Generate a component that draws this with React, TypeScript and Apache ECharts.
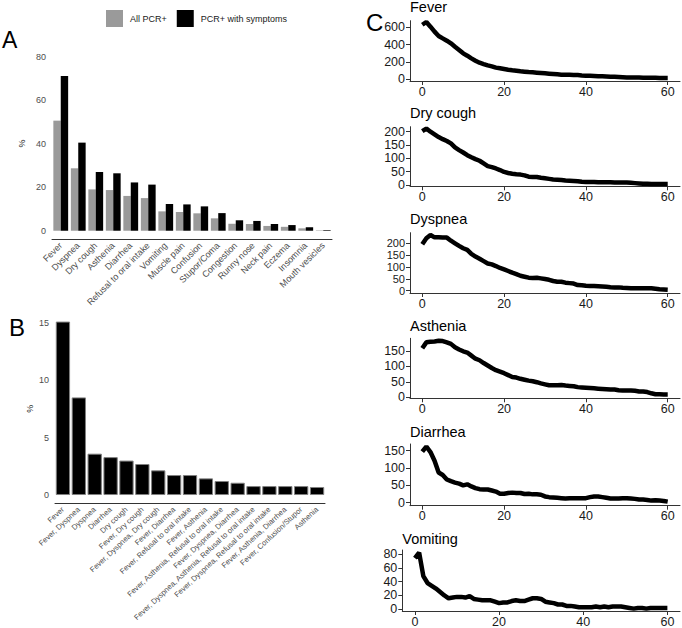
import { useEffect, useRef } from 'react';
import * as echarts from 'echarts';

const FONT = 'Liberation Sans, Arial, sans-serif';

// Panel A
const SYMPTOMS_A = ['Fever', 'Dyspnea', 'Dry cough', 'Asthenia', 'Diarrhea', 'Refusal to oral intake', 'Vomiting', 'Muscle pain', 'Confusion', 'Stupor/Coma', 'Congestion', 'Runny nose', 'Neck pain', 'Eczema', 'Insomnia', 'Mouth vesicles'];
const ALL_PCR = [50.6, 28.7, 19.0, 18.7, 16.0, 15.0, 8.9, 8.6, 8.0, 5.7, 3.2, 3.1, 2.2, 1.8, 1.1, 0.2];
const PCR_SYMPT = [71.1, 40.5, 27.0, 26.4, 22.2, 21.2, 12.3, 12.1, 11.2, 8.1, 4.8, 4.5, 3.1, 2.6, 1.6, 0.3];
const A_TICKS = [0, 20, 40, 60, 80];

// Panel B
const COMBOS_B = ['Fever', 'Fever, Dyspnea', 'Dyspnea', 'Diarrhea', 'Dry cough', 'Fever, Dry cough', 'Fever, Dyspnea, Dry cough', 'Fever, Diarrhea', 'Fever, Refusal to oral intake', 'Fever, Asthenia', 'Fever, Asthenia, Refusal to oral intake', 'Fever, Dyspnea, Diarrhea', 'Fever, Dyspnea, Asthenia, Refusal to oral intake', 'Fever, Dyspnea, Refusal to oral intake', 'Fever, Asthenia, Diarrhea', 'Fever, Confusion/Stupor', 'Asthenia'];
const COMBO_PCT = [15.1, 8.5, 3.6, 3.3, 3.0, 2.7, 2.15, 1.74, 1.74, 1.45, 1.22, 1.07, 0.78, 0.78, 0.78, 0.78, 0.7];
const B_TICKS = [0, 5, 10, 15];

// Panel C
const DAYS = [0, 1, 2, 3, 4, 5, 6, 7, 8, 9, 10, 11, 12, 13, 14, 15, 16, 17, 18, 19, 20, 21, 22, 23, 24, 25, 26, 27, 28, 29, 30, 31, 32, 33, 34, 35, 36, 37, 38, 39, 40, 41, 42, 43, 44, 45, 46, 47, 48, 49, 50, 51, 52, 53, 54, 55, 56, 57, 58, 59, 60];
const FEVER = [630, 662, 608, 550, 500, 472, 445, 414, 375, 337, 298, 271, 240, 213, 190, 174, 159, 147, 132, 124, 116, 108, 101, 95, 89, 85, 81, 78, 74, 70, 66, 62, 58, 54, 50, 50, 50, 48, 46, 42, 39, 37, 35, 33, 31, 29, 27, 25, 23, 21, 19, 19, 19, 17, 15, 15, 15, 14, 12, 12, 12];
const DRY_COUGH = [202, 212, 200, 190, 180, 172, 165, 156, 141, 131, 122, 112, 104, 97, 91, 81, 71, 67, 62, 56, 49, 45, 42, 40, 39, 36, 31, 30, 30, 27, 25, 23, 21, 20, 19, 17, 16, 15, 14, 12, 11, 11, 11, 10, 10, 10, 10, 9, 9, 9, 9, 8, 7, 6, 5, 5, 4, 4, 4, 4, 4];
const DYSPNEA = [196, 221, 235, 225, 225, 224, 224, 211, 200, 189, 179, 172, 155, 144, 135, 125, 115, 111, 104, 96, 90, 83, 76, 70, 63, 59, 55, 54, 55, 52, 49, 46, 41, 38, 38, 34, 32, 30, 24, 23, 21, 20, 20, 19, 18, 17, 15, 14, 14, 12, 11, 10, 10, 10, 10, 10, 10, 8, 6, 5, 4];
const ASTHENIA = [159, 178, 180, 181, 183, 182, 178, 173, 162, 155, 149, 145, 135, 125, 120, 111, 103, 95, 88, 83, 78, 72, 66, 64, 60, 57, 54, 52, 49, 45, 42, 39, 39, 39, 40, 38, 37, 36, 33, 32, 31, 30, 29, 28, 27, 26, 25, 25, 23, 22, 22, 22, 21, 19, 19, 17, 13, 10, 10, 9, 9];
const DIARRHEA = [147, 162, 146, 121, 87, 80, 67, 62, 58, 55, 50, 53, 47, 42, 39, 38, 38, 35, 32, 26, 26, 28, 29, 28, 28, 25, 26, 24, 24, 23, 18, 16, 15, 14, 13, 12, 13, 13, 13, 13, 13, 16, 18, 18, 16, 14, 12, 12, 12, 13, 13, 12, 11, 9, 9, 8, 6, 7, 6, 5, 3];
const VOMITING = [74, 82, 48, 38, 34, 30, 25, 20, 16, 17, 18, 18, 17, 19, 15, 14, 13, 13, 13, 11, 9, 10, 10, 12, 13, 12, 12, 14, 16, 16, 15, 11, 10, 9, 7, 7, 5, 5, 4, 3, 3, 3, 3, 4, 3, 4, 3, 4, 4, 4, 3, 2, 1, 2, 2, 1, 2, 2, 2, 2, 2];
const C_TITLES = ['Fever', 'Dry cough', 'Dyspnea', 'Asthenia', 'Diarrhea', 'Vomiting'];
const C_SERIES = [FEVER, DRY_COUGH, DYSPNEA, ASTHENIA, DIARRHEA, VOMITING];
const C_YTICKS = [[0, 200, 400, 600], [0, 50, 100, 150, 200], [0, 50, 100, 150, 200], [0, 50, 100, 150], [0, 50, 100, 150], [0, 20, 40, 60, 80]];
const C_XTICKS = [0, 20, 40, 60];

// layout (px) for panel C
const C_LAYOUT = [
  { left: 410, top: 20.7, width: 270, height: 60.3, min: -23, max: 677, titleY: 7, fs: 12.5 },
  { left: 410, top: 126.7, width: 270, height: 59.6, min: -4.9, max: 218.8, titleY: 112.5, fs: 12.5 },
  { left: 410, top: 232.7, width: 270, height: 60.3, min: -9.7, max: 244.7, titleY: 219, fs: 11 },
  { left: 410, top: 338.3, width: 270, height: 60, min: -3.2, max: 191.1, titleY: 325.5, fs: 12.5 },
  { left: 410, top: 444, width: 270, height: 61.7, min: -8.7, max: 169.3, titleY: 431.5, fs: 12.5 },
  { left: 402.3, top: 550, width: 277.7, height: 61.7, min: -2.4, max: 85.7, titleY: 538.5, fs: 12.5 },
];

const axisLineStyle = { color: '#333', width: 1 };

function buildOption() {
  const grids: any[] = [
    { left: 52, top: 48, width: 280, height: 191 },
    { left: 55, top: 314, width: 270, height: 189.3 },
    ...C_LAYOUT.map((l) => ({ left: l.left, top: l.top, width: l.width, height: l.height })),
  ];
  const xAxes: any[] = [
    {
      type: 'category', gridIndex: 0, data: SYMPTOMS_A,
      axisLine: { onZero: false, lineStyle: axisLineStyle },
      axisTick: { alignWithLabel: true, length: 3, lineStyle: axisLineStyle },
      axisLabel: { rotate: 45, fontSize: 9, color: '#4d4d4d', margin: 5, fontFamily: FONT, interval: 0 },
    },
    {
      type: 'category', gridIndex: 1, data: COMBOS_B,
      axisLine: { onZero: false, lineStyle: axisLineStyle },
      axisTick: { alignWithLabel: true, length: 3, lineStyle: axisLineStyle },
      axisLabel: { rotate: 43, fontSize: 7.6, color: '#4d4d4d', margin: 5, fontFamily: FONT, interval: 0 },
    },
    ...C_LAYOUT.map((l, i) => ({
      type: 'value', gridIndex: i + 2, min: -3, max: 63,
      splitLine: { show: false },
      axisLine: { onZero: false, lineStyle: axisLineStyle },
      axisTick: { length: 4, lineStyle: axisLineStyle, customValues: C_XTICKS },
      axisLabel: { fontSize: 12.5, color: '#1a1a1a', margin: 4, fontFamily: FONT, customValues: C_XTICKS, showMinLabel: true, showMaxLabel: true },
    })),
  ];
  const yAxes: any[] = [
    {
      type: 'value', gridIndex: 0, min: -3.8, max: 84,
      name: '%', nameLocation: 'middle', nameGap: 26, nameRotate: 90,
      nameTextStyle: { fontSize: 9, color: '#1a1a1a', fontFamily: FONT },
      splitLine: { show: false },
      axisLine: { onZero: false, lineStyle: axisLineStyle },
      axisTick: { length: 3, lineStyle: axisLineStyle, customValues: A_TICKS },
      axisLabel: { fontSize: 9, color: '#4d4d4d', margin: 6, fontFamily: FONT, customValues: A_TICKS, showMinLabel: true, showMaxLabel: true },
    },
    {
      type: 'value', gridIndex: 1, min: -0.72, max: 15.76,
      name: '%', nameLocation: 'middle', nameGap: 21, nameRotate: 90,
      nameTextStyle: { fontSize: 9, color: '#1a1a1a', fontFamily: FONT },
      splitLine: { show: false },
      axisLine: { onZero: false, lineStyle: { color: '#888', width: 1 } },
      axisTick: { length: 3, lineStyle: axisLineStyle, customValues: B_TICKS },
      axisLabel: { fontSize: 9, color: '#4d4d4d', margin: 6, fontFamily: FONT, customValues: B_TICKS, showMinLabel: true, showMaxLabel: true },
    },
    ...C_LAYOUT.map((l, i) => ({
      type: 'value', gridIndex: i + 2, min: l.min, max: l.max,
      splitLine: { show: false },
      axisLine: { onZero: false, lineStyle: axisLineStyle },
      axisTick: { length: 4, lineStyle: axisLineStyle, customValues: C_YTICKS[i] },
      axisLabel: {
        fontSize: l.fs, color: '#1a1a1a', margin: 5, fontFamily: FONT, customValues: C_YTICKS[i],
        showMinLabel: true, showMaxLabel: true, hideOverlap: false, lineHeight: 10,
      },
    })),
  ];
  const series: any[] = [
    {
      name: 'All PCR+', type: 'bar', xAxisIndex: 0, yAxisIndex: 0, data: ALL_PCR,
      barWidth: 7.4, barGap: '0%', itemStyle: { color: '#9a9a9a' },
    },
    {
      name: 'PCR+ with symptoms', type: 'bar', xAxisIndex: 0, yAxisIndex: 0, data: PCR_SYMPT,
      barWidth: 7.4, barGap: '0%', itemStyle: { color: '#000' },
    },
    {
      name: 'combos', type: 'bar', xAxisIndex: 1, yAxisIndex: 1, data: COMBO_PCT,
      barCategoryGap: '10%', itemStyle: { color: '#000', borderColor: '#808080', borderWidth: 1 },
    },
    ...C_SERIES.map((vals, i) => ({
      name: C_TITLES[i], type: 'line', xAxisIndex: i + 2, yAxisIndex: i + 2,
      data: DAYS.map((d, k) => [d, vals[k]]),
      symbol: 'none', showSymbol: false,
      lineStyle: { color: '#000', width: 4.5 },
    })),
  ];
  const graphic: any[] = [
    { type: 'text', x: 2, y: 40, style: { text: 'A', fontSize: 23, fontFamily: FONT, fill: '#000', verticalAlign: 'middle' } },
    { type: 'text', x: 9, y: 327.5, style: { text: 'B', fontSize: 24, fontFamily: FONT, fill: '#000', verticalAlign: 'middle' } },
    { type: 'text', x: 366, y: 22, style: { text: 'C', fontSize: 24, fontFamily: FONT, fill: '#000', verticalAlign: 'middle' } },
    ...C_LAYOUT.map((l, i) => ({
      type: 'text', x: l.left, y: l.titleY,
      style: { text: C_TITLES[i], fontSize: 14.5, fontFamily: FONT, fill: '#000', verticalAlign: 'middle' },
    })),
  ];
  return {
    animation: false,
    backgroundColor: '#fff',
    textStyle: { fontFamily: FONT },
    legend: {
      data: ['All PCR+', 'PCR+ with symptoms'],
      left: 106, top: 10, itemWidth: 17, itemHeight: 17, itemGap: 10, icon: 'rect',
      padding: 0,
      textStyle: { fontSize: 9, color: '#1a1a1a', fontFamily: FONT, padding: [0, 0, 0, 2] },
    },
    grid: grids,
    xAxis: xAxes,
    yAxis: yAxes,
    series,
    graphic,
  };
}

export default function App() {
  const ref = useRef<HTMLDivElement>(null);
  useEffect(() => {
    if (!ref.current) return;
    const chart = echarts.init(ref.current, null, { renderer: 'svg' });
    chart.setOption(buildOption() as any);
    return () => chart.dispose();
  }, []);
  return (
    <div
      ref={ref}
      style={{ position: 'fixed', left: 0, top: 0, width: 682, height: 628, background: '#fff' }}
    />
  );
}
